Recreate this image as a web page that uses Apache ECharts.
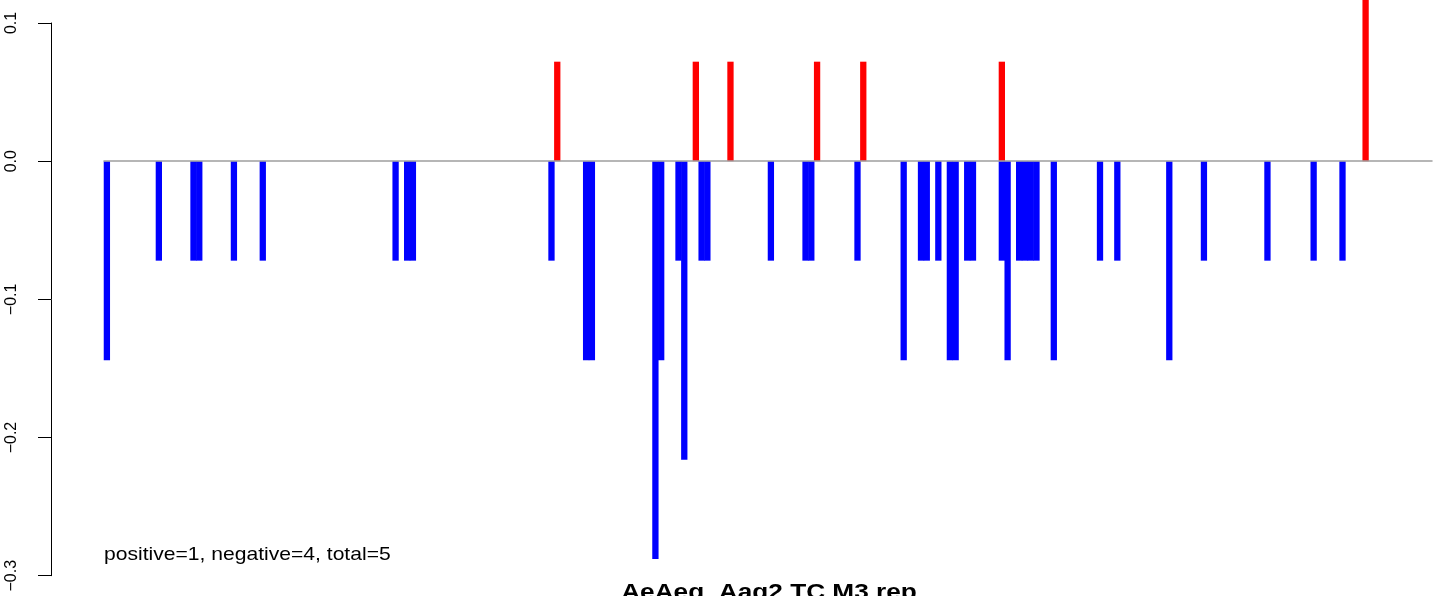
<!DOCTYPE html>
<html>
<head>
<meta charset="utf-8">
<script src="https://cdn.jsdelivr.net/npm/echarts@6/dist/echarts.min.js"></script>
<style>
  html, body { margin: 0; padding: 0; background: #ffffff; }
  #chart { width: 1441px; height: 596px; }
</style>
</head>
<body>
<div id="chart"></div>
<script>
// ---- data ----
const slotCount = 230;                       // positions along the x axis
const positiveSlots  = [78, 102, 108, 123, 131, 155, 218];
const positiveValues = [0.072, 0.072, 0.072, 0.072, 0.072, 0.072, 0.144];
const negativeSlots  = [0, 9, 15, 16, 22, 27, 50, 52, 53, 77, 83, 84, 95, 96, 99, 100, 103, 104,
                        115, 121, 122, 130, 138, 141, 142, 144, 146, 147, 149, 150, 155, 156,
                        158, 159, 160, 161, 164, 172, 175, 184, 190, 201, 209, 214];
const negativeValues = [-0.144, -0.072, -0.072, -0.072, -0.072, -0.072, -0.072, -0.072, -0.072, -0.072,
                        -0.144, -0.144, -0.288, -0.144, -0.072, -0.216, -0.072, -0.072,
                        -0.072, -0.072, -0.072, -0.072, -0.144, -0.072, -0.072, -0.072, -0.144, -0.144,
                        -0.072, -0.072, -0.072, -0.144,
                        -0.072, -0.072, -0.072, -0.072, -0.144, -0.072, -0.072, -0.144, -0.072, -0.072,
                        -0.072, -0.072];
const yTicks = [-0.3, -0.2, -0.1, 0.0, 0.1];
const titleText = 'AeAeg_Aag2 TC M3 rep';
const noteText = 'positive=1, negative=4, total=5';

// ---- build library tables ----
const categories = Array.from({length: slotCount}, (_, i) => String(i + 1));
function fill(slots, values) {
  const arr = new Array(slotCount).fill(null);
  slots.forEach((s, k) => { arr[s] = values[k]; });
  return arr;
}
const posData = fill(positiveSlots, positiveValues);
const negData = fill(negativeSlots, negativeValues);

const chart = echarts.init(document.getElementById('chart'), null, {renderer: 'canvas'});
const fontFam = 'Liberation Sans, Arial, sans-serif';

chart.setOption({
  backgroundColor: '#ffffff',
  animation: false,
  grid: { left: 104, right: 9, top: 23, bottom: 20.3, containLabel: false },
  xAxis: {
    type: 'category',
    data: categories,
    boundaryGap: true,
    axisLine: { show: true, onZero: true, lineStyle: { color: '#9e9e9e', width: 1.5 } },
    axisTick: { show: false },
    axisLabel: { show: false },
    splitLine: { show: false },
    z: 5
  },
  yAxis: {
    type: 'value',
    min: yTicks[0],
    max: yTicks[yTicks.length - 1],
    interval: 0.1,
    offset: 53,
    axisLine: { show: true, lineStyle: { color: '#000000', width: 1 } },
    axisTick: { show: true, length: 13, lineStyle: { color: '#000000', width: 1 } },
    axisLabel: {
      show: true,
      rotate: 90,
      margin: 31,
      fontFamily: fontFam,
      fontSize: 16,
      color: '#000000',
      formatter: v => (v < -1e-9 ? '\u2212' : '') + Math.abs(v).toFixed(1)
    },
    splitLine: { show: false }
  },
  series: [
    {
      name: 'positive',
      type: 'bar',
      data: posData,
      barWidth: 6.3,
      barGap: '-100%',
      clip: false,
      itemStyle: { color: '#ff0000' }
    },
    {
      name: 'negative',
      type: 'bar',
      data: negData,
      barWidth: 6.3,
      barGap: '-100%',
      clip: false,
      itemStyle: { color: '#0000ff' }
    }
  ],
  graphic: [
    {
      type: 'text',
      x: 104, y: 555,
      scaleX: 1.11,
      style: {
        text: noteText,
        x: 0, y: 0,
        fill: '#000000',
        font: '19px ' + fontFam,
        textAlign: 'left',
        textVerticalAlign: 'middle',
        verticalAlign: 'middle'
      }
    },
    {
      type: 'text',
      x: 769, y: 593,
      scaleX: 1.165,
      style: {
        text: titleText,
        x: 0, y: 0,
        fill: '#000000',
        font: 'bold 22.5px ' + fontFam,
        textAlign: 'center',
        textVerticalAlign: 'middle',
        verticalAlign: 'middle'
      }
    }
  ]
});
</script>
</body>
</html>
